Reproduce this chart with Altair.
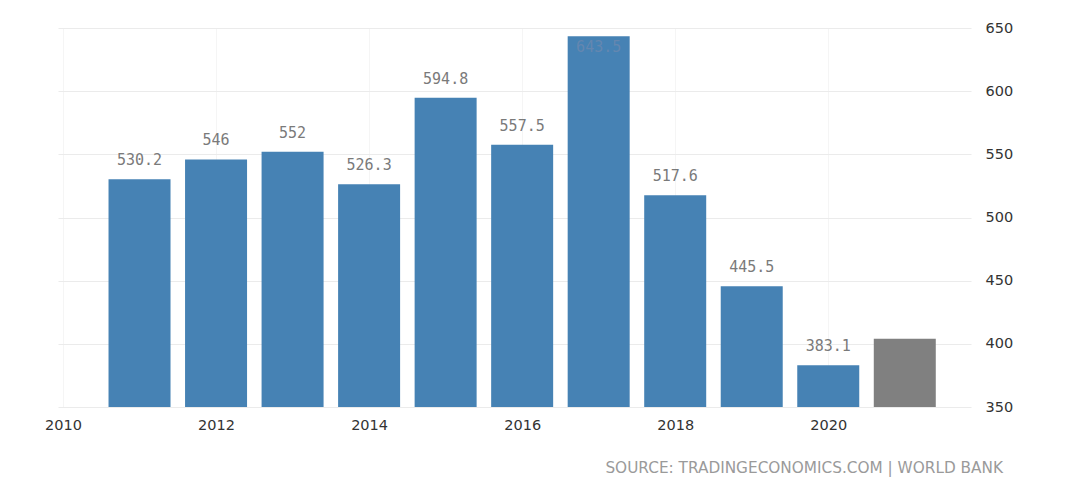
import altair as alt
import pandas as pd

years = [2011, 2012, 2013, 2014, 2015, 2016, 2017, 2018, 2019, 2020, 2021]
values = [530.2, 546, 552, 526.3, 594.8, 557.5, 643.5, 517.6, 445.5, 383.1, 404]
labels = ["530.2", "546", "552", "526.3", "594.8", "557.5", "643.5", "517.6", "445.5", "383.1", ""]
x_ticks = [2010, 2012, 2014, 2016, 2018, 2020]
y_ticks = [350, 400, 450, 500, 550, 600, 650]
source = "SOURCE: TRADINGECONOMICS.COM | WORLD BANK"

df = pd.DataFrame({"year": years, "value": values, "label": labels})

xs = alt.Scale(domain=[2010, 2021.8], nice=False, zero=False)
ys = alt.Scale(domain=[350, 650], nice=False, zero=False)

base = alt.Chart(df)

bars = base.mark_bar(size=62).encode(
    x=alt.X("year:Q", scale=xs,
            axis=alt.Axis(values=x_ticks, format="d", title=None, domain=False, ticks=False,
                          labelPadding=11, labelFont="DejaVu Sans", labelFontSize=14.5,
                          labelColor="#333333", grid=True, gridColor="#f5f5f5",
                          labelFlush=False)),
    y=alt.Y("value:Q", scale=ys,
            axis=alt.Axis(values=y_ticks, orient="right", title=None, domain=False, ticks=False,
                          labelPadding=14, labelFont="DejaVu Sans", labelFontSize=14.5,
                          labelColor="#333333", grid=True, gridColor="#ebebeb")),
    y2=alt.datum(350),
    color=alt.condition(alt.datum.year == 2021, alt.value("#808080"), alt.value("#4682b4")),
)

text_above = base.transform_filter(alt.datum.value < 620).mark_text(
    baseline="bottom", dy=-11, font="DejaVu Sans Mono", fontSize=15, color="#7a7a7a"
).encode(x=alt.X("year:Q", scale=xs), y=alt.Y("value:Q", scale=ys), text="label:N")

text_inside = base.transform_filter(alt.datum.value >= 620).mark_text(
    baseline="top", dy=4, font="DejaVu Sans Mono", fontSize=15, color="#6487b0"
).encode(x=alt.X("year:Q", scale=xs), y=alt.Y("value:Q", scale=ys), text="label:N")

src = alt.Chart(pd.DataFrame({"t": [source]})).mark_text(
    align="right", baseline="middle", font="DejaVu Sans", fontSize=15.3,
    color="#9a9a9a"
).encode(x=alt.value(945), y=alt.value(440), text="t:N")

chart = alt.layer(bars, text_above, text_inside, src).properties(
    width=913, height=379,
    padding={"left": 58, "top": 28, "right": 109, "bottom": 93},
    autosize=alt.AutoSizeParams(type="none"),
    background="white",
).configure_view(stroke=None)

chart.save("out.html", embed_options={"renderer": "svg", "actions": False})
